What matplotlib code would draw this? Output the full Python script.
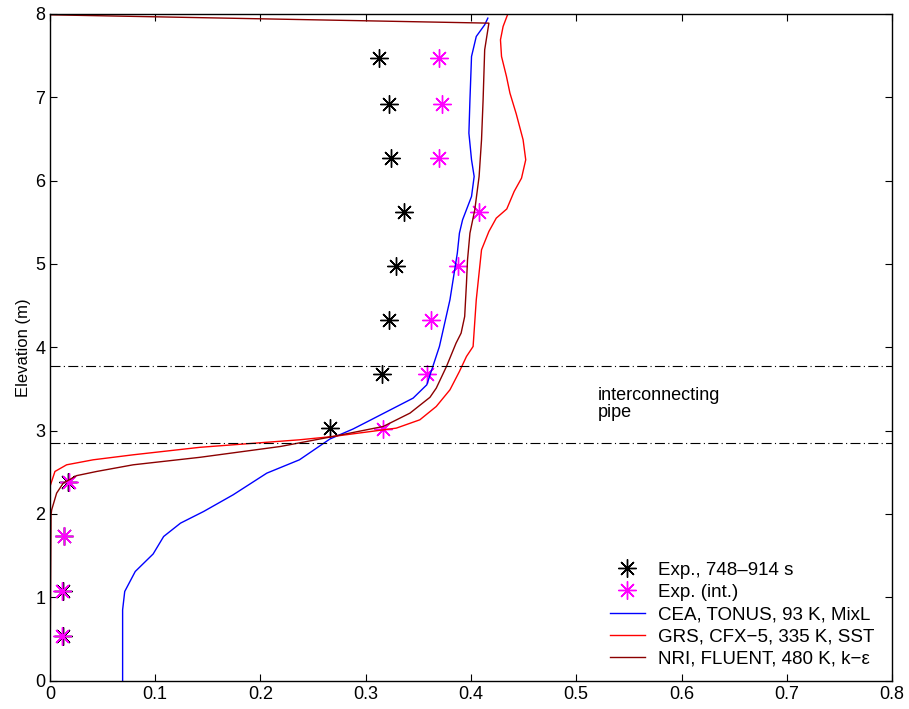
import numpy as np
import matplotlib
matplotlib.use('Agg')
import matplotlib.pyplot as plt

plt.rcParams['font.family'] = ['Liberation Sans', 'DejaVu Sans']

# measured points (black) and interpolated ones (magenta)
exp_x = [0.012, 0.012, 0.013, 0.017, 0.266, 0.315, 0.322, 0.329, 0.336, 0.324, 0.322, 0.313]
exp_y = [0.54, 1.08, 1.73, 2.38, 3.03, 3.68, 4.33, 4.98, 5.62, 6.27, 6.92, 7.47]
int_x = [0.011, 0.011, 0.013, 0.018, 0.316, 0.358, 0.362, 0.388, 0.408, 0.370, 0.372, 0.370]
int_y = [0.54, 1.08, 1.73, 2.38, 3.02, 3.68, 4.33, 4.98, 5.62, 6.27, 6.92, 7.47]

# CEA, TONUS
cea_x = [0.069, 0.069, 0.071, 0.081, 0.098, 0.108, 0.124, 0.146, 0.174, 0.206,
         0.237, 0.266, 0.288, 0.305, 0.345, 0.358, 0.370, 0.380, 0.387, 0.389,
         0.392, 0.4005, 0.403, 0.4005, 0.398, 0.399, 0.4005, 0.405, 0.413, 0.416]
cea_y = [0.0, 0.85, 1.07, 1.31, 1.52, 1.73, 1.89, 2.03, 2.23, 2.49,
         2.65, 2.90, 3.02, 3.13, 3.39, 3.55, 4.01, 4.57, 5.13, 5.37,
         5.53, 5.81, 6.05, 6.25, 6.57, 6.97, 7.49, 7.73, 7.87, 7.95]

# GRS, CFX-5
grs_x = [0.0, 0.0, 0.0047, 0.0158, 0.041, 0.079, 0.1425, 0.237, 0.269, 0.329,
         0.3514, 0.367, 0.380, 0.389, 0.3957, 0.402, 0.405, 0.410, 0.417, 0.424,
         0.434, 0.441, 0.448, 0.452, 0.4495, 0.443, 0.437, 0.4337, 0.429, 0.428,
         0.4305, 0.435, 0.0]
grs_y = [0.0, 2.33, 2.51, 2.59, 2.65, 2.71, 2.80, 2.89, 2.93, 3.03,
         3.13, 3.29, 3.49, 3.71, 3.89, 4.01, 4.57, 5.17, 5.39, 5.55,
         5.66, 5.87, 6.03, 6.25, 6.49, 6.80, 7.05, 7.25, 7.49, 7.69,
         7.85, 8.0, 8.0]

# NRI, FLUENT
nri_x = [0.0, 0.001, 0.0016, 0.0063, 0.0126, 0.0253, 0.0443, 0.079, 0.1425, 0.219,
         0.269, 0.3166, 0.342, 0.361, 0.367, 0.3767, 0.3858, 0.3906, 0.394, 0.3957,
         0.3967, 0.399, 0.4036, 0.4077, 0.410, 0.4115, 0.413, 0.417, 0.0]
nri_y = [0.0, 1.99, 2.05, 2.25, 2.37, 2.46, 2.51, 2.59, 2.68, 2.81,
         2.93, 3.05, 3.21, 3.40, 3.51, 3.77, 4.05, 4.17, 4.37, 4.77,
         5.05, 5.37, 5.65, 6.05, 6.49, 6.97, 7.57, 7.89, 7.99]

pipe_levels = [2.85, 3.78]

star = (8, 2, 0)

fig = plt.figure(figsize=(9.09, 7.09), dpi=100)
ax = fig.add_axes([0.055, 0.040, 0.9263, 0.9403])

ax.plot(exp_x, exp_y, linestyle='none', marker=star, markersize=13, mew=1,
        color='black', label='Exp., 748\u2013914 s')
ax.plot(int_x, int_y, linestyle='none', marker=star, markersize=13, mew=1,
        color='magenta', label='Exp. (int.)')
ax.plot(cea_x, cea_y, color='blue', lw=1, label='CEA, TONUS, 93 K, MixL')
ax.plot(grs_x, grs_y, color='red', lw=1, label='GRS, CFX\u22125, 335 K, SST')
ax.plot(nri_x, nri_y, color='#8b0000', lw=1, label='NRI, FLUENT, 480 K, k\u2212\u03b5')

for yy in pipe_levels:
    ax.axhline(yy, color='black', lw=0.8, linestyle=(0, (9, 3, 1, 3)))

ax.text(0.520, 3.32, 'interconnecting\npipe', fontsize=13, va='center', ha='left',
        linespacing=0.95)

ax.set_xlim(0, 0.8)
ax.set_ylim(0, 8)
ax.set_xticks(np.arange(0, 0.81, 0.1))
ax.set_xticklabels(['0', '0.1', '0.2', '0.3', '0.4', '0.5', '0.6', '0.7', '0.8'])
ax.set_yticks(range(0, 9))
ax.tick_params(direction='in', top=True, right=True, labelsize=13, length=5)
ax.set_ylabel('Elevation (m)', fontsize=12, labelpad=3)
for s in ax.spines.values():
    s.set_linewidth(1)

ax.legend(loc='lower right', bbox_to_anchor=(0.995, 0.0), frameon=False, fontsize=13.5,
          labelspacing=0.27, handlelength=1.9, handletextpad=0.7, borderaxespad=0.3)

fig.savefig('out.png', dpi=100)
